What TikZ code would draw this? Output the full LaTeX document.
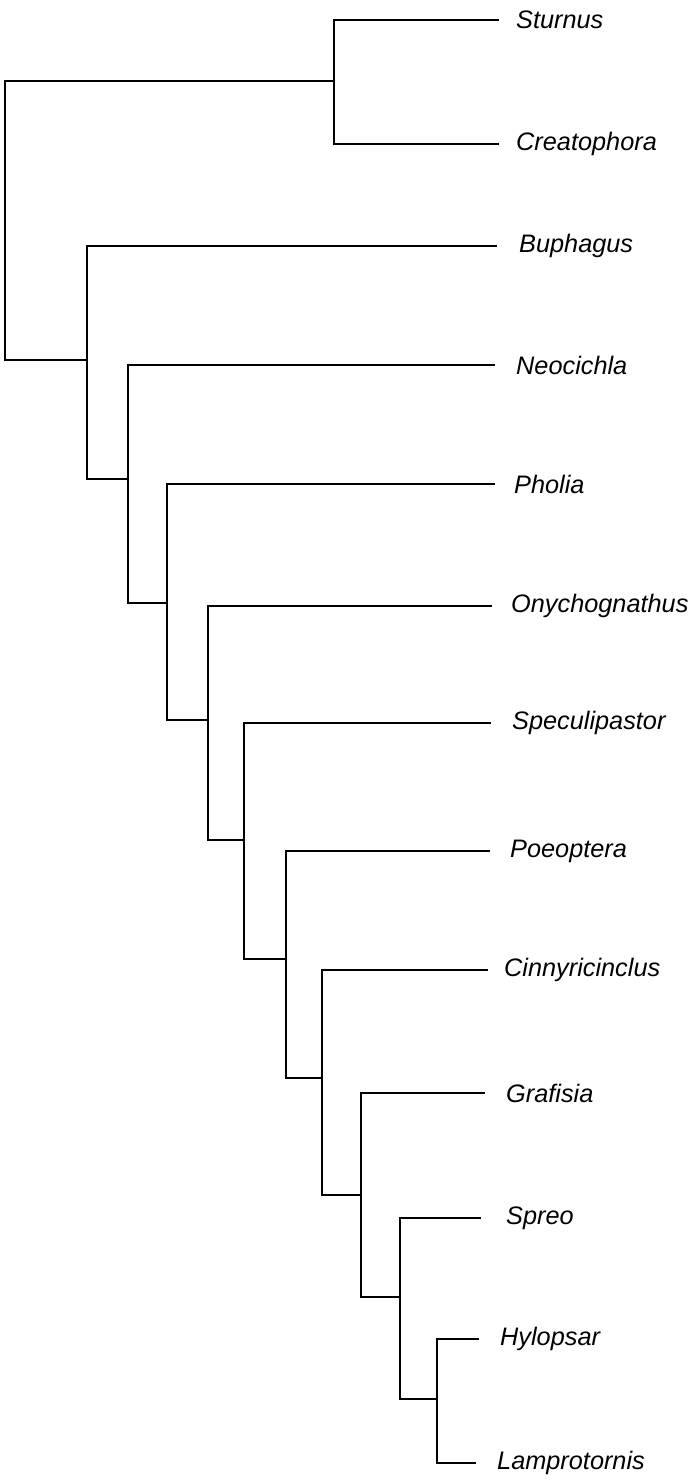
\documentclass[tikz,border=0pt]{standalone}
\usepackage{fontspec}
\setmainfont{Liberation Sans}
\begin{document}
\begin{tikzpicture}[x=1pt,y=-1pt,
  branch/.style={line width=2.2pt, line join=miter},
  taxon/.style={anchor=west, inner sep=0pt, font=\fontsize{25.3}{29}\selectfont\itshape}]
\useasboundingbox (0,0) rectangle (695,1483);

% branch tips (right ends of terminal branches)
\coordinate (tStu) at (499,20);
\coordinate (tCre) at (499,144);
\coordinate (tBup) at (497,246);
\coordinate (tNeo) at (495,365);
\coordinate (tPho) at (495,484);
\coordinate (tOny) at (492,606);
\coordinate (tSpe) at (491,723);
\coordinate (tPoe) at (490,851);
\coordinate (tCin) at (488,970);
\coordinate (tGra) at (485,1093);
\coordinate (tSpr) at (481,1218);
\coordinate (tHyl) at (479,1339);
\coordinate (tLam) at (476,1463);

% internal nodes (x of the vertical bar, y where the parent joins)
\coordinate (root) at (5,220);
\coordinate (nStu) at (334,81);
\coordinate (nBup) at (87,360);
\coordinate (nNeo) at (128,479);
\coordinate (nPho) at (167,603);
\coordinate (nOny) at (208,720);
\coordinate (nSpe) at (244,840);
\coordinate (nPoe) at (286,959);
\coordinate (nCin) at (322,1078);
\coordinate (nGra) at (361,1195);
\coordinate (nSpr) at (400,1297);
\coordinate (nHyl) at (437,1399);

% genus labels
\node[taxon] (Stu) at (516,20) {Sturnus};
\node[taxon] (Cre) at (516,144) {Creatophora};
\node[taxon] (Bup) at (519,246) {Buphagus};
\node[taxon] (Neo) at (516,365) {Neocichla};
\node[taxon] (Pho) at (514,484) {Pholia};
\node[taxon] (Ony) at (511,606) {Onychognathus};
\node[taxon] (Spe) at (512,723) {Speculipastor};
\node[taxon] (Poe) at (510,851) {Poeoptera};
\node[taxon] (Cin) at (504,970) {Cinnyricinclus};
\node[taxon] (Gra) at (506,1093) {Grafisia};
\node[taxon] (Spr) at (506,1218) {Spreo};
\node[taxon] (Hyl) at (500,1339) {Hylopsar};
\node[taxon] (Lam) at (497,1463) {Lamprotornis};

% tree
\draw[branch] (root) |- (nStu);
\draw[branch] (root) |- (nBup);
\draw[branch] (nStu) |- (tStu);
\draw[branch] (nStu) |- (tCre);
\draw[branch] (nBup) |- (tBup);
\draw[branch] (nBup) |- (nNeo);
\draw[branch] (nNeo) |- (tNeo);
\draw[branch] (nNeo) |- (nPho);
\draw[branch] (nPho) |- (tPho);
\draw[branch] (nPho) |- (nOny);
\draw[branch] (nOny) |- (tOny);
\draw[branch] (nOny) |- (nSpe);
\draw[branch] (nSpe) |- (tSpe);
\draw[branch] (nSpe) |- (nPoe);
\draw[branch] (nPoe) |- (tPoe);
\draw[branch] (nPoe) |- (nCin);
\draw[branch] (nCin) |- (tCin);
\draw[branch] (nCin) |- (nGra);
\draw[branch] (nGra) |- (tGra);
\draw[branch] (nGra) |- (nSpr);
\draw[branch] (nSpr) |- (tSpr);
\draw[branch] (nSpr) |- (nHyl);
\draw[branch] (nHyl) |- (tHyl);
\draw[branch] (nHyl) |- (tLam);
\end{tikzpicture}
\end{document}
